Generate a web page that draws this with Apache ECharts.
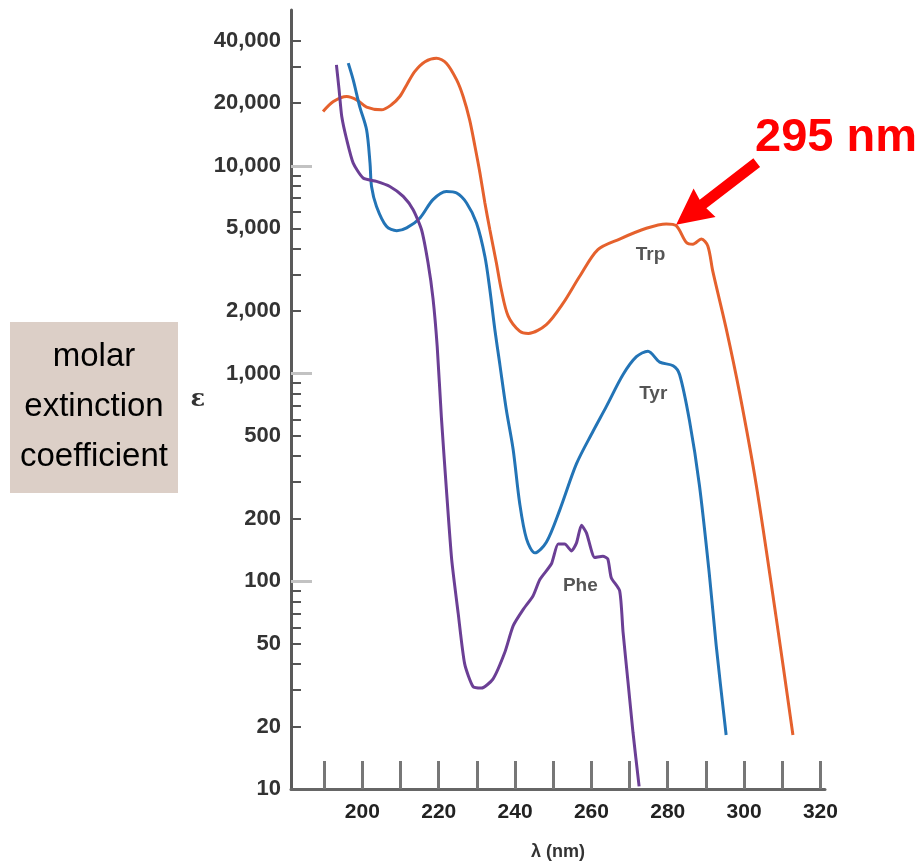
<!DOCTYPE html>
<html>
<head>
<meta charset="utf-8">
<title>Absorption spectra of Trp, Tyr and Phe</title>
<script src="https://cdn.jsdelivr.net/npm/echarts@6.0.0/dist/echarts.min.js"></script>
<style>
  html, body { margin: 0; padding: 0; background: #fff; }
  #chart { width: 920px; height: 866px; }
</style>
</head>
<body>
<div id="chart"></div>
<script>
// wavelength (nm) and molar extinction coefficient
const trpNm = [189.7, 192.4, 195.9, 198.5, 201.1, 205.0, 207.6, 209.8, 211.6, 213.7, 216.4, 219.4, 222.0, 224.7, 226.4,
  228.1, 229.5, 230.8, 232.1, 233.4, 235.1, 236.4, 238.2, 241.2, 243.5, 248.2, 252.6, 256.9, 261.7, 267.4, 274.4,
  279.6, 282.2, 284.9, 286.6, 288.8, 290.5, 291.8, 295.3, 298.8, 303.2, 308.4, 312.8];
const trpEps = [18240, 20370, 21540, 20760, 19150, 18580, 19650, 21540, 24500, 28400, 31700, 32950, 31180, 25900, 21540,
  16640, 12380, 9230, 6620, 4920, 3410, 2530, 1890, 1600, 1560, 1720, 2180, 2930, 3950, 4440, 5000,
  5250, 5150, 4270, 4190, 4440, 4110, 3110, 1650, 811, 290, 67, 18.2];

const tyrNm = [196.3, 197.6, 199.3, 201.1, 202.0, 202.4, 203.7, 206.3, 209.0, 211.6, 215.1, 218.5, 222.0, 224.7, 227.3,
  229.9, 232.1, 233.4, 234.7, 236.0, 237.7, 239.5, 241.2, 243.0, 245.2, 248.2, 251.7, 256.1, 260.4, 263.9,
  268.3, 271.8, 274.8, 277.9, 281.4, 283.1, 285.7, 288.3, 290.9, 292.7, 295.3];
const tyrEps = [31180, 25900, 19280, 14900, 10300, 7950, 6370, 5110, 4870, 5020, 5610, 6870, 7520, 7390, 6620,
  5300, 3660, 2530, 1630, 1110, 671, 431, 238, 160, 137, 154, 220, 368, 526, 693,
  989, 1205, 1280, 1135, 1090, 989, 592, 290, 108, 49, 18.2];

const pheNm = [193.2, 193.9, 194.6, 195.9, 197.6, 200.2, 203.7, 207.2, 210.7, 213.3, 215.5, 217.2, 218.5, 219.6, 220.7,
  222.0, 223.4, 225.1, 226.8, 229.0, 231.2, 234.2, 237.3, 239.5, 242.1, 244.7, 246.5, 249.5, 251.3, 253.0, 254.8,
  256.1, 257.4, 258.7, 260.9, 263.0, 264.3, 265.2, 267.4, 268.3, 269.6, 270.9, 272.5];
const pheEps = [30600, 23200, 17260, 13340, 10300, 8730, 8410, 7950, 7120, 6140, 4920, 3410, 2300, 1350, 615,
  279, 127, 70, 40, 31.1, 30.6, 33.8, 45.4, 61, 73, 85, 102, 121, 151, 151, 140,
  153, 186, 171, 130, 132, 128, 104, 90, 56.7, 32.6, 18.7, 10.3];

const curveNames = ['Trp', 'Tyr', 'Phe'];
const curveLabelNm = [275.5, 276.2, 257.1];
const curveLabelEps = [3730, 800, 95];

const xTickValues = [190, 200, 210, 220, 230, 240, 250, 260, 270, 280, 290, 300, 310, 320];
const xLabelValues = [200, 220, 240, 260, 280, 300, 320];
const yLabelValues = [10, 20, 50, 100, 200, 500, 1000, 2000, 5000, 10000, 20000, 40000];
const yDecadeTicks = [100, 1000, 10000];
const yMinorTicks = [20, 30, 40, 50, 60, 70, 80, 90, 200, 300, 400, 500, 600, 700, 800, 900,
  2000, 3000, 4000, 5000, 6000, 7000, 8000, 9000, 20000, 30000, 40000];

const peakNm = 282.2;
const peakEps = 5200;

const zip = (xs, ys) => xs.map((x, i) => [x, ys[i]]);

const chart = echarts.init(document.getElementById('chart'));

const yBase = {
  type: 'log',
  logBase: 10,
  min: 10,
  max: 56200,
  position: 'left',
  splitLine: { show: false },
};

chart.setOption({
  animation: false,
  backgroundColor: '#fff',
  textStyle: { fontFamily: 'Liberation Sans, Arial, sans-serif' },
  grid: { left: 291, right: 95, top: 10, bottom: 76 },
  xAxis: {
    type: 'value',
    min: 181.3,
    max: 321.2,
    name: 'λ (nm)',
    nameLocation: 'middle',
    nameGap: 54,
    nameTextStyle: { fontSize: 18, fontWeight: 'bold', color: '#333' },
    axisLine: { lineStyle: { color: '#666', width: 3 } },
    axisTick: {
      inside: true,
      length: 28,
      customValues: xTickValues,
      lineStyle: { color: '#777', width: 3 },
    },
    axisLabel: {
      customValues: xLabelValues,
      margin: 13,
      fontSize: 21,
      fontWeight: 'bold',
      color: '#222',
    },
    splitLine: { show: false },
  },
  yAxis: [
    Object.assign({}, yBase, {
      name: 'ε',
      nameLocation: 'middle',
      nameGap: 86,
      nameRotate: 0,
      nameTextStyle: { fontSize: 24, fontWeight: 'bold', color: '#333', fontFamily: 'DejaVu Serif' },
      axisLine: { lineStyle: { color: '#5a5a5a', width: 3 } },
      axisTick: {
        inside: true,
        length: 10,
        customValues: yMinorTicks,
        lineStyle: { color: '#555', width: 2 },
      },
      axisLabel: {
        customValues: yLabelValues,
        margin: 10,
        fontSize: 22,
        fontWeight: 'bold',
        color: '#333',
        formatter: v => Number(v).toLocaleString('en-US'),
      },
    }),
    Object.assign({}, yBase, {
      axisLine: { show: false },
      axisLabel: { show: false },
      axisTick: {
        inside: true,
        length: 21,
        customValues: yDecadeTicks,
        lineStyle: { color: '#c2c2c2', width: 3 },
      },
    }),
  ],
  series: [
    {
      name: 'Trp',
      type: 'line',
      data: zip(trpNm, trpEps),
      showSymbol: false,
      smooth: 0.3,
      lineStyle: { color: '#e5612d', width: 3 },
      z: 3,
    },
    {
      name: 'Tyr',
      type: 'line',
      data: zip(tyrNm, tyrEps),
      showSymbol: false,
      smooth: 0.3,
      lineStyle: { color: '#2374b6', width: 3 },
      z: 3,
    },
    {
      name: 'Phe',
      type: 'line',
      data: zip(pheNm, pheEps),
      showSymbol: false,
      smooth: 0.2,
      lineStyle: { color: '#6b3f95', width: 3 },
      z: 3,
    },
    {
      // curve names written under each peak
      type: 'scatter',
      symbolSize: 0,
      data: curveNames.map((n, i) => [curveLabelNm[i], curveLabelEps[i], n]),
      label: {
        show: true,
        position: 'inside',
        formatter: p => p.value[2],
        fontSize: 19,
        fontWeight: 'bold',
        color: '#2a2a2a',
      },
      z: 4,
    },
  ],
});

// annotation arrow pointing at the Trp shoulder, plus the side box
const tip = chart.convertToPixel({ gridIndex: 0 }, [peakNm, peakEps]);
const ux = 0.79, uy = -0.61;      // direction from tip towards the tail
const nx = -uy, ny = ux;          // perpendicular
const pt = (a, b) => [tip[0] + ux * a + nx * b, tip[1] + uy * a + ny * b];
const arrow = [pt(0, 0), pt(36, 18), pt(34, 5.5), pt(102, 5.5), pt(102, -5.5), pt(34, -5.5), pt(36, -18)];

chart.setOption({
  graphic: [
    { type: 'polygon', shape: { points: arrow }, style: { fill: '#ff0000' }, z: 10 },
    {
      type: 'text', x: 755, y: 138,
      style: { text: '295 nm', fill: '#ff0000', font: 'bold 47px "Liberation Sans", Arial, sans-serif', verticalAlign: 'middle' },
      z: 10,
    },
    { type: 'rect', shape: { x: 10, y: 322, width: 168, height: 171 }, style: { fill: '#dccfc7' }, z: 1 },
    {
      type: 'text', x: 94, y: 357,
      style: { text: 'molar', fill: '#000', font: '33px "Liberation Sans", Arial, sans-serif', align: 'center', verticalAlign: 'middle' },
      z: 2,
    },
    {
      type: 'text', x: 94, y: 407,
      style: { text: 'extinction', fill: '#000', font: '33px "Liberation Sans", Arial, sans-serif', align: 'center', verticalAlign: 'middle' },
      z: 2,
    },
    {
      type: 'text', x: 94, y: 457,
      style: { text: 'coefficient', fill: '#000', font: '33px "Liberation Sans", Arial, sans-serif', align: 'center', verticalAlign: 'middle' },
      z: 2,
    },
  ],
});
</script>
</body>
</html>
